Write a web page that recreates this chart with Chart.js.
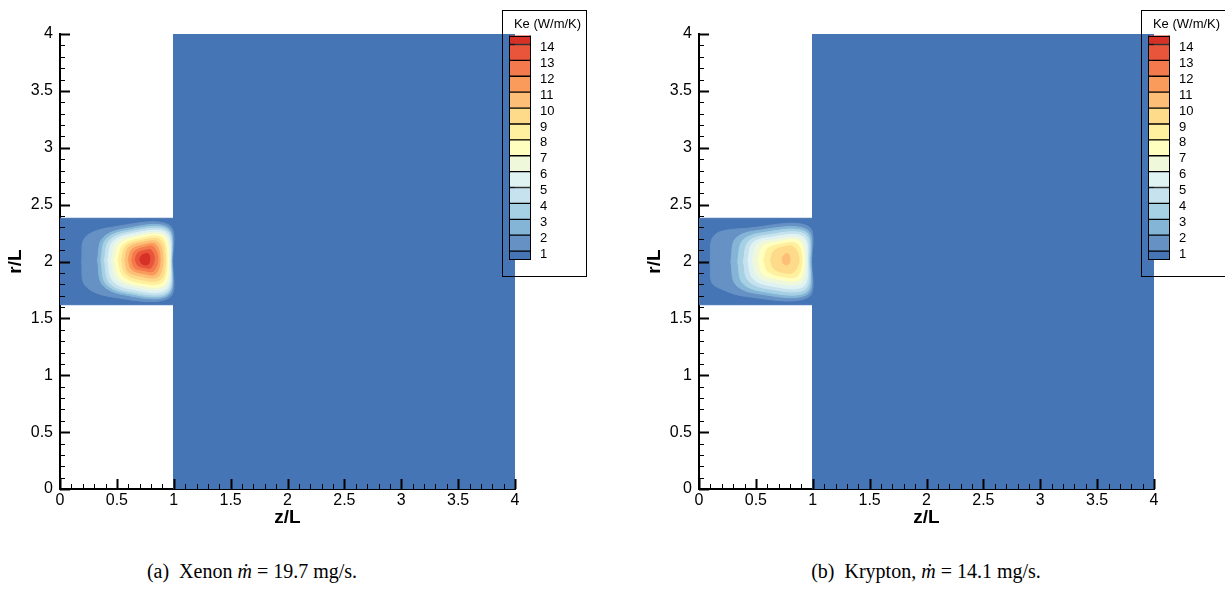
<!DOCTYPE html>
<html>
<head>
<meta charset="utf-8">
<script src="https://cdn.jsdelivr.net/npm/chart.js@4.4.1/dist/chart.umd.min.js"></script>
<style>
  body { margin: 0; width: 1225px; height: 590px; background: #fff; position: relative; overflow: hidden; }
  .panel { position: absolute; top: 0; }
  .key { position: absolute; top: 10px; width: 83px; height: 265px; border: 1px solid #000; }
  .key canvas { display: block; }
  .caption { position: absolute; top: 560px; font-family: "Liberation Serif", "DejaVu Serif", serif; font-size: 20px;
             white-space: nowrap; transform: translateX(-50%); color: #000; }
</style>
</head>
<body>
<canvas id="xenon" class="panel" width="586" height="540" style="left:0"></canvas>
<canvas id="krypton" class="panel" width="586" height="540" style="left:639px"></canvas>
<div class="key" style="left:502px"><canvas id="keyXenon" width="83" height="265"></canvas></div>
<div class="key" style="left:1141px"><canvas id="keyKrypton" width="83" height="265"></canvas></div>
<div class="caption" style="left:252px">(a)&nbsp; Xenon <i>ṁ</i> = 19.7 mg/s.</div>
<div class="caption" style="left:926px">(b)&nbsp; Krypton, <i>ṁ</i> = 14.1 mg/s.</div>
<script>
// axis ticks
const zTicks = [0, 0.5, 1, 1.5, 2, 2.5, 3, 3.5, 4];
const rTicks = [0, 0.5, 1, 1.5, 2, 2.5, 3, 3.5, 4];

// contour levels of Ke (W/m/K) and the fill of each band: below 1, 1-2, ..., 13-14, above 14
const keLevels = [1, 2, 3, 4, 5, 6, 7, 8, 9, 10, 11, 12, 13, 14];
const bandColors = ['#4575b4', '#6591c5', '#85b5d6', '#a6d0e4', '#c7e2ef', '#e0f3f3', '#f0f8dc', '#ffffbf',
                    '#fff09f', '#fedb8a', '#fdbf78', '#fa9b5c', '#f47a4d', '#e9553a', '#d73027'];

// computational domain (z/L, r/L): inlet channel + plume region
const domainOutline = [[0, 1.62], [1, 1.62], [1, 0], [4, 0], [4, 4], [1, 4], [1, 2.38], [0, 2.38]];

// Xenon: outline of each Ke iso-line, levels 1..14
const xenonShapes = [
  [[0.19, 2.00], [0.22, 2.21], [0.45, 2.30], [0.96, 2.32], [0.99, 2.00], [0.96, 1.68], [0.45, 1.69], [0.22, 1.79]],
  [[0.33, 2.01], [0.37, 2.20], [0.55, 2.285], [0.95, 2.30], [0.985, 2.00], [0.95, 1.70], [0.55, 1.71], [0.37, 1.80]],
  [[0.36, 2.01], [0.40, 2.19], [0.57, 2.27], [0.945, 2.285], [0.98, 2.00], [0.945, 1.715], [0.57, 1.725], [0.40, 1.81]],
  [[0.39, 2.01], [0.43, 2.18], [0.59, 2.255], [0.94, 2.27], [0.975, 2.00], [0.94, 1.73], [0.59, 1.74], [0.43, 1.82]],
  [[0.42, 2.01], [0.46, 2.17], [0.61, 2.24], [0.93, 2.255], [0.97, 2.00], [0.93, 1.75], [0.61, 1.76], [0.46, 1.835]],
  [[0.45, 2.01], [0.49, 2.16], [0.63, 2.225], [0.92, 2.24], [0.965, 2.00], [0.92, 1.77], [0.63, 1.78], [0.49, 1.85]],
  [[0.48, 2.01], [0.52, 2.15], [0.65, 2.21], [0.91, 2.225], [0.955, 2.01], [0.91, 1.79], [0.65, 1.80], [0.52, 1.865]],
  [[0.51, 2.01], [0.55, 2.14], [0.67, 2.195], [0.895, 2.21], [0.94, 2.01], [0.895, 1.815], [0.67, 1.82], [0.55, 1.88]],
  [[0.54, 2.01], [0.575, 2.13], [0.69, 2.18], [0.88, 2.19], [0.925, 2.01], [0.88, 1.84], [0.69, 1.845], [0.575, 1.895]],
  [[0.57, 2.015], [0.60, 2.12], [0.71, 2.165], [0.86, 2.17], [0.905, 2.02], [0.86, 1.865], [0.71, 1.87], [0.60, 1.91]],
  [[0.60, 2.015], [0.63, 2.105], [0.73, 2.145], [0.84, 2.15], [0.88, 2.02], [0.84, 1.89], [0.73, 1.895], [0.63, 1.93]],
  [[0.63, 2.015], [0.655, 2.09], [0.74, 2.125], [0.82, 2.13], [0.86, 2.02], [0.82, 1.915], [0.74, 1.92], [0.655, 1.945]],
  [[0.66, 2.02], [0.685, 2.075], [0.755, 2.10], [0.80, 2.10], [0.83, 2.03], [0.80, 1.945], [0.75, 1.945], [0.685, 1.965]],
  [[0.70, 2.02], [0.72, 2.055], [0.765, 2.07], [0.78, 2.065], [0.79, 2.03], [0.78, 1.98], [0.75, 1.97], [0.715, 1.985]]
];

// Krypton: levels 1..10
const kryptonShapes = [
  [[0.10, 2.00], [0.11, 2.19], [0.18, 2.26], [0.40, 2.29], [0.96, 2.31], [0.99, 2.00], [0.96, 1.685], [0.40, 1.695], [0.17, 1.77], [0.11, 1.82]],
  [[0.28, 2.00], [0.32, 2.20], [0.50, 2.27], [0.95, 2.28], [0.985, 2.00], [0.95, 1.71], [0.50, 1.72], [0.32, 1.80]],
  [[0.34, 2.00], [0.38, 2.18], [0.54, 2.25], [0.94, 2.26], [0.975, 2.00], [0.94, 1.73], [0.54, 1.74], [0.38, 1.815]],
  [[0.39, 2.00], [0.43, 2.17], [0.58, 2.23], [0.93, 2.24], [0.965, 2.00], [0.93, 1.755], [0.58, 1.765], [0.43, 1.835]],
  [[0.43, 2.01], [0.47, 2.16], [0.61, 2.21], [0.915, 2.22], [0.955, 2.01], [0.915, 1.78], [0.61, 1.79], [0.47, 1.855]],
  [[0.47, 2.01], [0.51, 2.15], [0.64, 2.19], [0.90, 2.20], [0.94, 2.01], [0.90, 1.81], [0.64, 1.82], [0.51, 1.875]],
  [[0.52, 2.01], [0.555, 2.13], [0.67, 2.17], [0.88, 2.18], [0.925, 2.01], [0.88, 1.84], [0.67, 1.85], [0.555, 1.895]],
  [[0.57, 2.01], [0.60, 2.11], [0.70, 2.15], [0.86, 2.155], [0.905, 2.01], [0.86, 1.87], [0.70, 1.875], [0.60, 1.92]],
  [[0.63, 2.015], [0.655, 2.09], [0.73, 2.125], [0.83, 2.13], [0.88, 2.02], [0.83, 1.905], [0.73, 1.905], [0.655, 1.94]],
  [[0.73, 2.02], [0.745, 2.055], [0.775, 2.07], [0.79, 2.06], [0.80, 2.02], [0.79, 1.98], [0.765, 1.97], [0.74, 1.985]]
];

const sans = '"Liberation Sans", Arial, Helvetica, sans-serif';

function toPoints(pts, close) {
  const out = pts.map(p => ({x: p[0], y: p[1]}));
  if (close) out.push({x: pts[0][0], y: pts[0][1]});
  return out;
}

function buildDatasets(shapes) {
  const sets = [{
    data: toPoints(domainOutline, true),
    showLine: true, fill: 'shape', tension: 0, pointRadius: 0,
    backgroundColor: bandColors[0], borderColor: bandColors[0], borderWidth: 1, order: 0
  }];
  shapes.forEach((pts, i) => {
    const lev = keLevels[i];
    sets.push({
      data: toPoints(pts, true),
      showLine: true, fill: 'shape', tension: 0.35, pointRadius: 0,
      backgroundColor: bandColors[lev], borderColor: bandColors[lev], borderWidth: 1, order: -lev
    });
  });
  return sets;
}

// minor/major ticks pointing into the plot, like the original axes
const innerTicks = {
  id: 'innerTicks',
  afterDatasetsDraw(chart) {
    const {ctx, chartArea: a, scales: {x, y}} = chart;
    ctx.save();
    ctx.strokeStyle = '#000';
    for (let i = 0; i <= 40; i++) {
      const major = i % 5 === 0, len = major ? 10 : 5;
      const px = Math.round(x.getPixelForValue(i / 10)) + 0.5;
      const py = Math.round(y.getPixelForValue(i / 10)) + 0.5;
      ctx.lineWidth = major ? 2 : 1;
      ctx.beginPath();
      ctx.moveTo(px, a.bottom); ctx.lineTo(px, a.bottom - len);
      ctx.moveTo(a.left, py); ctx.lineTo(a.left + len, py);
      ctx.stroke();
    }
    ctx.restore();
  }
};

const plainLabel = v => String(v);

function fieldChart(id, shapes) {
  return new Chart(document.getElementById(id), {
    type: 'scatter',
    data: {datasets: buildDatasets(shapes)},
    plugins: [innerTicks],
    options: {
      responsive: false, animation: false,
      layout: {padding: {left: 0, right: 71, top: 34, bottom: 0}},
      plugins: {legend: {display: false}, tooltip: {enabled: false}},
      scales: {
        x: {
          type: 'linear', min: 0, max: 4,
          afterBuildTicks: s => { s.ticks = zTicks.map(v => ({value: v})); },
          afterFit: s => { s.height = 51; },
          grid: {display: false, drawTicks: false},
          border: {display: true, color: '#000', width: 2},
          ticks: {color: '#000', padding: 2, font: {family: sans, size: 16}, maxRotation: 0, autoSkip: false, callback: plainLabel},
          title: {display: true, text: 'z/L', color: '#000', font: {family: sans, size: 19, weight: 'bold'}, padding: {top: 0, bottom: 11}}
        },
        y: {
          type: 'linear', min: 0, max: 4,
          afterBuildTicks: s => { s.ticks = rTicks.map(v => ({value: v})); },
          afterFit: s => { s.width = 60; },
          grid: {display: false, drawTicks: false},
          border: {display: true, color: '#000', width: 2},
          ticks: {color: '#000', padding: 7, font: {family: sans, size: 16}, autoSkip: false, callback: plainLabel},
          title: {display: true, text: 'r/L', color: '#000', font: {family: sans, size: 19, weight: 'bold'}, padding: {top: 4, bottom: 0}}
        }
      }
    }
  });
}

// thin frame around the colour bar
const keyFrame = {
  id: 'keyFrame',
  afterDatasetsDraw(chart) {
    const {ctx, chartArea: a} = chart;
    ctx.save();
    ctx.strokeStyle = '#000';
    ctx.lineWidth = 1;
    ctx.strokeRect(Math.round(a.left) + 0.5, Math.round(a.top) + 0.5, Math.round(a.width) - 1, Math.round(a.height) - 1);
    ctx.restore();
  }
};

function keyChart(id) {
  return new Chart(document.getElementById(id), {
    type: 'bar',
    data: {
      labels: ['Ke'],
      datasets: bandColors.map(c => ({
        data: [1], backgroundColor: c, borderColor: '#000', borderWidth: 1, borderSkipped: false,
        barPercentage: 1, categoryPercentage: 1
      }))
    },
    plugins: [keyFrame],
    options: {
      responsive: false, animation: false,
      layout: {padding: {left: 6, right: 0, top: 0, bottom: 13}},
      plugins: {
        legend: {display: false}, tooltip: {enabled: false},
        title: {display: true, text: 'Ke (W/m/K)', color: '#000', font: {family: sans, size: 13, weight: 'normal'}, padding: {top: 6, bottom: 3}}
      },
      scales: {
        x: {stacked: true, display: false},
        y: {
          stacked: true, position: 'right', min: 0.49, max: 14.56,
          afterBuildTicks: s => { s.ticks = keLevels.map(v => ({value: v})); },
          afterFit: s => { s.width = 55; },
          grid: {display: false, drawTicks: false},
          border: {display: false},
          ticks: {color: '#000', padding: 9, labelOffset: 3, autoSkip: false, font: {family: sans, size: 13}, callback: plainLabel}
        }
      }
    }
  });
}

fieldChart('xenon', xenonShapes);
fieldChart('krypton', kryptonShapes);
keyChart('keyXenon');
keyChart('keyKrypton');
</script>
</body>
</html>
